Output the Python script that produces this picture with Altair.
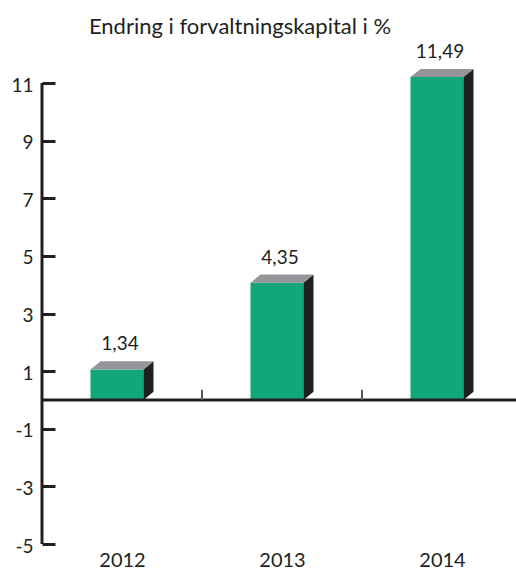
import altair as alt
import pandas as pd

# Data
years = ["2012", "2013", "2014"]
values = [1.34, 4.35, 11.49]
y_ticks = [-5, -3, -1, 1, 3, 5, 7, 9, 11]

# 3D bar geometry (in scale units: one category step on x, one percent on y)
LEFT = 0.197     # front face left edge, from category centre
RIGHT = 0.134    # front face right edge, from category centre
DX = 0.063       # depth offset to the right
DY = 0.28        # depth offset upwards
SEP_H = 0.35     # height of the separator ticks on the zero line

FONT = "Lato"
INK = "#231f20"
GREEN = "#12a77a"
SIDE = "#231f20"
TOP = "#939598"

idx = list(range(len(years)))

front = pd.DataFrame({
    "year": years,
    "x0": [i - LEFT for i in idx],
    "x1": [i + RIGHT for i in idx],
    "y0": [0.0] * len(years),
    "y1": [v - DY for v in values],
})

side_rows, top_rows = [], []
for i, (yr, v) in enumerate(zip(years, values)):
    side_rows.append({"year": yr, "x": i + RIGHT, "lo": 0.0, "hi": v - DY})
    side_rows.append({"year": yr, "x": i + RIGHT + DX, "lo": DY, "hi": v})
    top_rows.append({"year": yr, "y": v - DY, "lo": i - LEFT, "hi": i + RIGHT})
    top_rows.append({"year": yr, "y": v, "lo": i - LEFT + DX, "hi": i + RIGHT + DX})
side = pd.DataFrame(side_rows)
top = pd.DataFrame(top_rows)

labels = pd.DataFrame({
    "x": idx,
    "v": values,
    "label": [f"{v:.2f}".replace(".", ",") for v in values],
})

separators = pd.DataFrame({"x": [i + 0.5 for i in idx[:-1]], "y0": 0.0, "y1": SEP_H})

x_min, x_max = -0.5, len(years) - 0.5375
x_scale = alt.Scale(domain=[x_min, x_max], nice=False, zero=False)
y_scale = alt.Scale(domain=[min(y_ticks), max(y_ticks)], nice=False, zero=False)

year_expr = "[" + ",".join(f"'{y}'" for y in years) + "][datum.value]"

x_axis = alt.Axis(
    values=idx, labelExpr=year_expr, domain=False, ticks=False, grid=False,
    title=None, labelFont=FONT, labelFontSize=20, labelColor=INK,
    labelPadding=6)
y_axis = alt.Axis(
    values=y_ticks, labelExpr="'' + datum.value", domain=False, grid=False,
    title=None, offset=-13, tickSize=13, tickWidth=3, tickColor=INK,
    labelFont=FONT, labelFontSize=19, labelColor=INK, labelPadding=9,
    labelOffset=2)


def X(field):
    return alt.X(field, scale=x_scale, axis=x_axis)


def Y(field):
    return alt.Y(field, scale=y_scale, axis=y_axis)


front_layer = alt.Chart(front).mark_rect(color=GREEN).encode(
    x=X("x0:Q"), x2="x1:Q", y=Y("y0:Q"), y2="y1:Q",
)

side_layer = alt.Chart(side).mark_area(color=SIDE, orient="vertical").encode(
    x=X("x:Q"), y=Y("lo:Q"), y2="hi:Q", detail="year:N",
)

top_layer = alt.Chart(top).mark_area(color=TOP, orient="horizontal").encode(
    y=Y("y:Q"), x=X("lo:Q"), x2="hi:Q", detail="year:N",
)

zero_line = alt.Chart(pd.DataFrame({"y": [0]})).mark_rule(
    color=INK, strokeWidth=3).encode(y=Y("y:Q"))

y_line = alt.Chart(pd.DataFrame({"x": [x_min]})).mark_rule(
    color=INK, strokeWidth=3).encode(x=X("x:Q"))

sep_layer = alt.Chart(separators).mark_rule(color="#58595b", strokeWidth=2).encode(
    x=X("x:Q"), y=Y("y0:Q"), y2="y1:Q",
)

text_layer = alt.Chart(labels).mark_text(
    font=FONT, fontSize=19, color=INK, baseline="alphabetic", dy=-11, dx=-2
).encode(
    x=X("x:Q"), y=Y("v:Q"), text="label:N",
)

chart = alt.layer(
    front_layer, side_layer, top_layer, zero_line, y_line, sep_layer, text_layer
).properties(
    width=474,
    height=461,
    autosize=alt.AutoSizeParams(type="none"),
    padding={"left": 42, "top": 83, "right": 0, "bottom": 26},
    title=alt.TitleParams(
        "Endring i forvaltningskapital i %", font=FONT, fontSize=22,
        fontWeight="normal", color=INK, anchor="middle", frame="group",
        baseline="alphabetic", offset=-13, dx=-39),
).configure_view(stroke=None)

chart.save("out.html", embed_options={"renderer": "svg", "actions": False})
